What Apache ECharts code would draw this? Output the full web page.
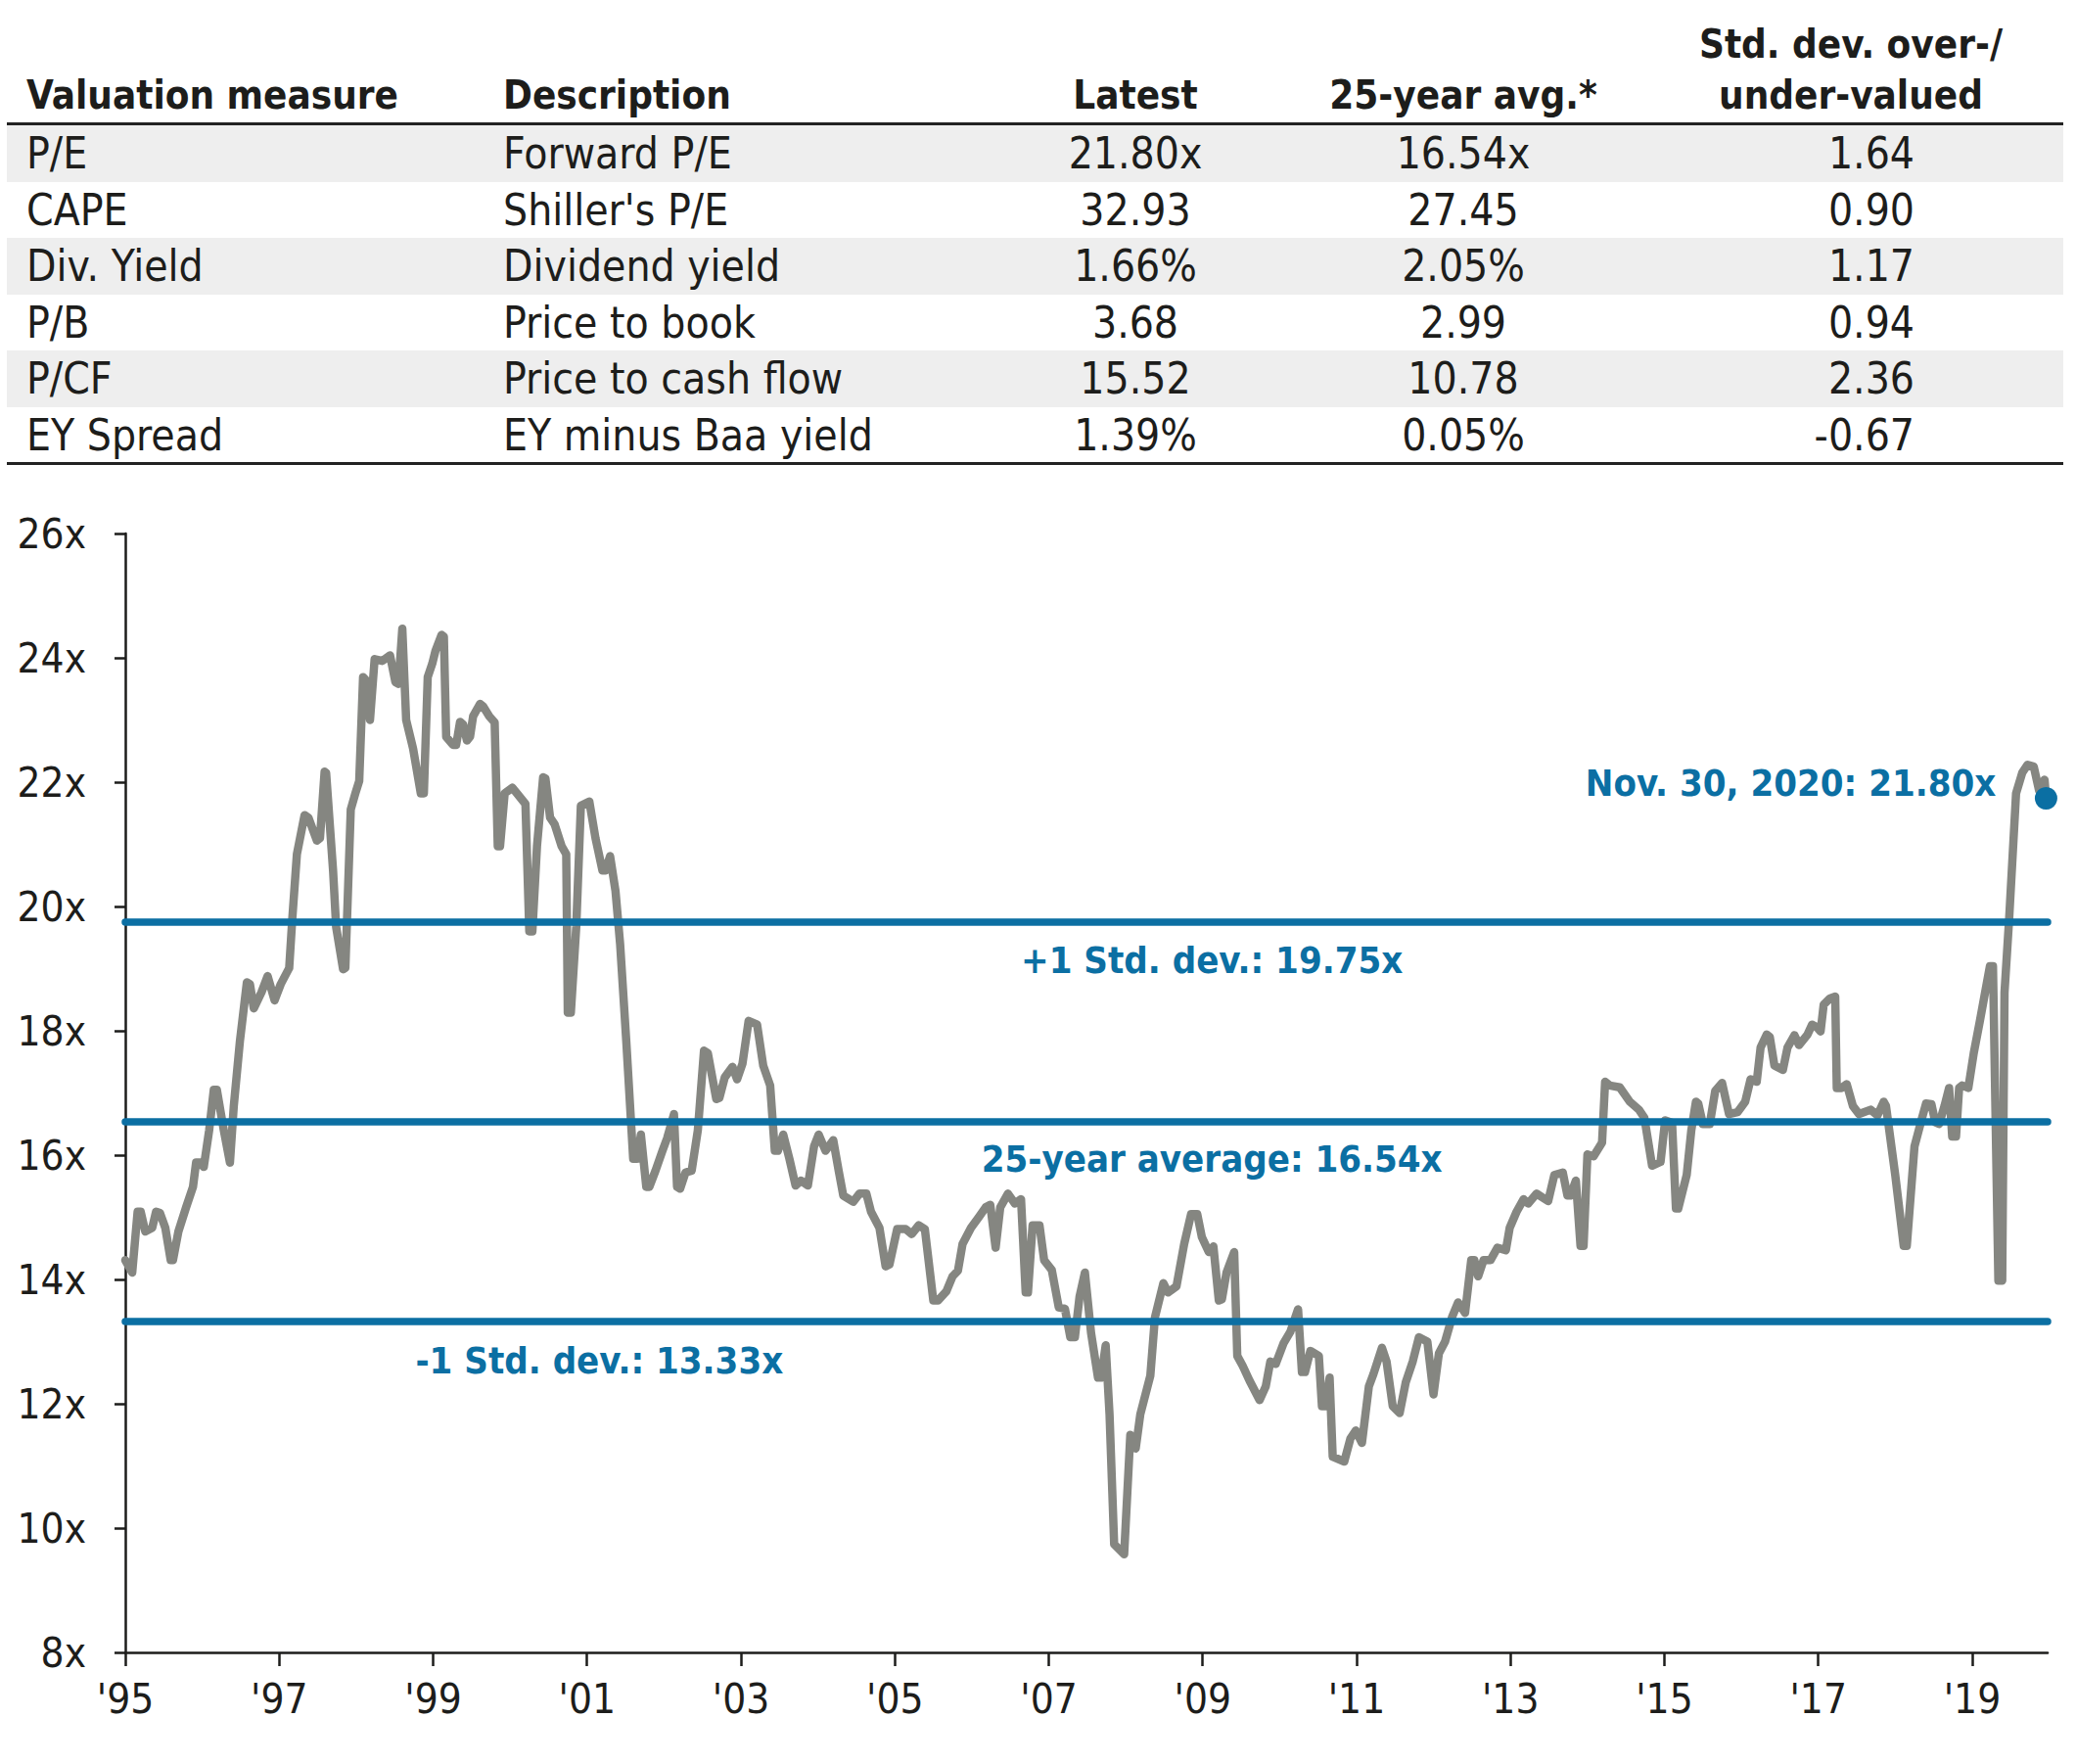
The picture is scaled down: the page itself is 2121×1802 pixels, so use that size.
<!DOCTYPE html>
<html><head><meta charset="utf-8">
<script src="https://cdn.jsdelivr.net/npm/echarts@6/dist/echarts.min.js"></script>
<style>
html,body{margin:0;padding:0;background:#fff;width:2121px;height:1802px;overflow:hidden;}
#chart{position:absolute;left:0;top:0;width:2121px;height:1802px;}
#table{position:absolute;left:0;top:0;width:2121px;height:480px;color:#1d1d1b;
  font-family:'DejaVu Sans Condensed','Liberation Sans Narrow','DejaVu Sans',sans-serif;}
.band{position:absolute;left:7px;width:2101px;height:58px;background:#eeeeee;}
.rule{position:absolute;left:7px;width:2101px;height:3px;background:#222;}
.cell{position:absolute;white-space:nowrap;height:58px;line-height:58px;font-size:44px;}
.hd{font-weight:bold;font-size:40px;}
.c{transform:translateX(-50%);}
.r{transform:translateX(-100%);}
</style></head>
<body>
<div id="chart"></div>
<div id="table"></div>
<script>
// ---------- table data ----------
const tableHeaders = ['Valuation measure', 'Description', 'Latest', '25-year avg.*'];
const stdHeader = ['Std. dev. over-/', 'under-valued'];
const measures = ['P/E', 'CAPE', 'Div. Yield', 'P/B', 'P/CF', 'EY Spread'];
const descriptions = ['Forward P/E', "Shiller's P/E", 'Dividend yield', 'Price to book', 'Price to cash flow', 'EY minus Baa yield'];
const latest = ['21.80x', '32.93', '1.66%', '3.68', '15.52', '1.39%'];
const avg25 = ['16.54x', '27.45', '2.05%', '2.99', '10.78', '0.05%'];
const stdDev = ['1.64', '0.90', '1.17', '0.94', '2.36', '-0.67'];

// ---------- chart data ----------
const dates = [1995.00,1995.09,1995.16,1995.20,1995.26,1995.35,1995.40,1995.45,1995.52,1995.59,1995.62,1995.69,1995.79,1995.88,1995.92,1995.97,
1996.02,1996.09,1996.15,1996.19,1996.28,1996.36,1996.41,1996.49,1996.58,1996.62,1996.67,1996.77,1996.85,1996.94,
1997.02,1997.13,1997.17,1997.23,1997.33,1997.38,1997.49,1997.53,1997.59,1997.61,1997.70,1997.74,1997.83,1997.86,1997.93,1997.99,
1998.04,1998.09,1998.12,1998.18,1998.24,1998.34,1998.44,1998.51,1998.55,1998.60,1998.65,1998.74,1998.84,1998.88,1998.93,1998.99,
1999.03,1999.11,1999.14,1999.17,1999.26,1999.30,1999.35,1999.39,1999.44,1999.48,1999.52,1999.61,1999.65,1999.73,1999.80,1999.84,1999.87,1999.93,
2000.03,2000.09,2000.20,2000.25,2000.29,2000.35,2000.43,2000.46,2000.52,2000.58,2000.67,2000.73,2000.75,2000.79,2000.86,2000.92,
2001.03,2001.11,2001.20,2001.24,2001.30,2001.37,2001.43,2001.51,2001.60,2001.65,2001.70,2001.77,2001.81,2001.89,2001.98,
2002.04,2002.13,2002.17,2002.21,2002.28,2002.36,2002.44,2002.52,2002.57,2002.68,2002.72,2002.79,2002.89,2002.95,
2003.02,2003.10,2003.21,2003.29,2003.38,2003.44,2003.48,2003.55,2003.63,2003.71,2003.78,2003.87,2003.95,
2004.01,2004.10,2004.20,2004.27,2004.33,2004.46,2004.54,2004.63,2004.69,2004.80,2004.88,2004.93,
2005.03,2005.14,2005.22,2005.31,2005.39,2005.50,2005.56,2005.67,2005.75,2005.82,2005.88,2005.99,
2006.09,2006.18,2006.24,2006.31,2006.37,2006.47,2006.56,2006.64,2006.70,2006.73,2006.79,2006.88,2006.94,
2007.04,2007.13,2007.21,2007.28,2007.34,2007.40,2007.47,2007.55,2007.64,2007.68,2007.74,2007.79,2007.85,2007.98,
2008.06,2008.13,2008.19,2008.32,2008.38,2008.49,2008.55,2008.66,2008.76,2008.85,2008.93,2008.99,
2009.08,2009.14,2009.21,2009.25,2009.31,2009.41,2009.45,2009.52,2009.61,2009.74,2009.82,2009.88,2009.95,
2010.05,2010.14,2010.24,2010.29,2010.33,2010.40,2010.51,2010.55,2010.60,2010.65,2010.69,2010.84,2010.92,2010.99,
2011.07,2011.16,2011.22,2011.33,2011.39,2011.47,2011.56,2011.64,2011.73,2011.81,2011.92,
2012.00,2012.07,2012.15,2012.24,2012.32,2012.41,2012.49,2012.53,2012.58,2012.65,2012.74,2012.83,2012.94,2012.99,
2013.08,2013.17,2013.23,2013.34,2013.49,2013.57,2013.68,2013.74,2013.78,2013.85,2013.91,2013.95,
2014.00,2014.08,2014.19,2014.23,2014.29,2014.42,2014.55,2014.67,2014.74,2014.84,2014.95,
2015.01,2015.10,2015.15,2015.18,2015.29,2015.35,2015.41,2015.44,2015.50,2015.59,2015.66,2015.75,2015.84,2015.95,
2016.05,2016.12,2016.20,2016.25,2016.33,2016.37,2016.43,2016.54,2016.60,2016.69,2016.75,2016.86,2016.92,2016.98,
2017.03,2017.07,2017.15,2017.22,2017.24,2017.30,2017.37,2017.45,2017.53,2017.68,2017.77,2017.85,2017.88,
2018.00,2018.11,2018.15,2018.25,2018.34,2018.40,2018.47,2018.52,2018.57,2018.64,2018.70,2018.74,2018.79,2018.83,2018.87,2018.95,
2019.02,2019.10,2019.23,2019.27,2019.34,2019.39,2019.42,2019.48,2019.57,2019.65,2019.72,2019.80,2019.87,2019.94,2019.96];

const forwardPE = [14.31,14.11,15.09,15.09,14.77,14.83,15.09,15.07,14.83,14.31,14.31,14.77,15.16,15.49,15.88,15.88,
15.81,16.40,17.05,17.05,16.40,15.88,16.79,17.84,18.78,18.75,18.36,18.62,18.88,18.49,
18.75,19.01,19.80,20.84,21.47,21.43,21.06,21.10,22.17,22.15,20.58,19.67,18.99,19.01,21.56,21.82,
22.02,23.69,23.65,23.00,23.98,23.95,24.04,23.61,23.58,24.47,23.00,22.54,21.82,21.82,23.69,23.91,
24.11,24.37,24.34,22.73,22.60,22.60,22.97,22.93,22.67,22.73,23.06,23.26,23.22,23.06,22.96,20.97,20.97,21.82,
21.91,21.82,21.65,19.60,19.60,20.97,22.08,22.06,21.43,21.32,20.97,20.84,18.29,18.29,19.67,21.62,
21.69,21.10,20.58,20.58,20.81,20.25,19.40,17.84,15.94,15.94,16.33,15.49,15.49,15.75,16.07,
16.27,16.66,15.49,15.46,15.72,15.75,16.40,17.68,17.64,16.90,16.92,17.25,17.42,17.22,
17.47,18.16,18.10,17.44,17.12,16.07,16.07,16.33,15.94,15.51,15.59,15.51,16.14,
16.33,16.07,16.24,15.75,15.35,15.25,15.38,15.38,15.09,14.83,14.21,14.24,
14.81,14.81,14.73,14.87,14.81,13.66,13.66,13.81,14.05,14.14,14.57,14.83,
15.00,15.16,15.20,14.51,15.16,15.38,15.22,15.29,13.79,13.79,14.87,14.87,14.31,
14.15,13.55,13.53,13.07,13.07,13.72,14.11,13.14,12.42,12.42,12.94,11.83,9.74,9.58,
11.50,11.28,11.83,12.45,13.39,13.94,13.79,13.89,14.57,15.05,15.05,14.68,
14.44,14.53,13.66,13.68,14.11,14.44,12.77,12.61,12.37,12.06,12.28,12.68,12.64,
12.97,13.16,13.52,12.51,12.51,12.85,12.77,11.96,11.96,12.42,11.15,11.07,11.44,11.57,
11.37,12.28,12.48,12.90,12.68,11.96,11.85,12.35,12.68,13.07,13.00,
12.15,12.81,13.00,13.39,13.63,13.46,14.31,14.31,14.05,14.31,14.31,14.51,14.47,14.83,
15.09,15.29,15.22,15.38,15.26,15.68,15.72,15.35,15.35,15.59,14.54,14.54,
16.01,15.98,16.20,17.18,17.12,17.09,16.86,16.73,16.60,15.83,15.89,
16.56,16.52,15.14,15.14,15.68,16.40,16.86,16.83,16.50,16.50,17.03,17.16,16.66,16.69,
16.86,17.22,17.18,17.73,17.94,17.90,17.44,17.37,17.73,17.93,17.77,17.94,18.10,18.06,
17.99,18.42,18.52,18.55,17.08,17.08,17.14,16.79,16.66,16.73,16.64,16.86,16.79,
15.68,14.54,14.54,16.14,16.56,16.83,16.82,16.53,16.50,16.79,17.08,16.30,16.30,17.08,17.12,17.08,
17.64,18.16,19.04,19.04,13.98,13.98,18.62,19.80,21.82,22.15,22.28,22.25,21.86,22.04,21.74];

const xTickYears = [1995,1997,1999,2001,2003,2005,2007,2009,2011,2013,2015,2017,2019];
const yTicks = [8,10,12,14,16,18,20,22,24,26];
const plusOneStd = 19.75;
const avg25yr = 16.54;
const minusOneStd = 13.33;
const latestDate = 'Nov. 30, 2020';
const latestPE = 21.80;

// ---------- build table ----------
const T = document.getElementById('table');
function add(cls, style, text){
  const d = document.createElement('div');
  d.className = cls; d.setAttribute('style', style);
  if (text !== undefined) d.textContent = text;
  T.appendChild(d); return d;
}
const rowTop = 128, rowH = 57.6;
for (let i = 0; i < measures.length; i++) {
  if (i % 2 === 0) add('band', 'top:' + (rowTop + i*rowH) + 'px;');
}
add('rule', 'top:125px;');
add('rule', 'top:472px;');
const hdTop = 68;
add('cell hd', 'left:27px;top:' + hdTop + 'px;', tableHeaders[0]);
add('cell hd', 'left:514px;top:' + hdTop + 'px;', tableHeaders[1]);
add('cell hd c', 'left:1160px;top:' + hdTop + 'px;', tableHeaders[2]);
add('cell hd c', 'left:1495px;top:' + hdTop + 'px;', tableHeaders[3]);
add('cell hd c', 'left:1891px;top:' + (hdTop - 52) + 'px;', stdHeader[0]);
add('cell hd c', 'left:1891px;top:' + hdTop + 'px;', stdHeader[1]);
for (let i = 0; i < measures.length; i++) {
  const t = rowTop + i*rowH;
  add('cell', 'left:27px;top:' + t + 'px;', measures[i]);
  add('cell', 'left:514px;top:' + t + 'px;', descriptions[i]);
  add('cell c', 'left:1160px;top:' + t + 'px;', latest[i]);
  add('cell c', 'left:1495px;top:' + t + 'px;', avg25[i]);
  add('cell r', 'left:1956px;top:' + t + 'px;', stdDev[i]);
}

// ---------- chart ----------
const FONT = "'DejaVu Sans Condensed','Liberation Sans Narrow','DejaVu Sans',sans-serif";
const BLUE = '#0b6fa3';
const GRAY = '#858681';
const INK = '#1d1d1b';
const peData = dates.map((d, i) => [d, forwardPE[i]]);
const last = peData[peData.length - 1];

const chart = echarts.init(document.getElementById('chart'), null, {renderer: 'svg'});
chart.setOption({
  animation: false,
  backgroundColor: 'transparent',
  grid: {left: 128, right: 29, top: 545, bottom: 114, containLabel: false},
  xAxis: {
    type: 'value', min: 1995, max: 2019.98, interval: 2,
    axisLine: {show: true, onZero: false, lineStyle: {color: INK, width: 2.5}},
    axisTick: {show: true, length: 14, customValues: xTickYears, lineStyle: {color: INK, width: 2.5}},
    axisLabel: {customValues: xTickYears, formatter: v => "'" + String(v).slice(2),
      fontSize: 42, color: INK, margin: 26, fontFamily: FONT},
    splitLine: {show: false}
  },
  yAxis: {
    type: 'value', min: yTicks[0], max: yTicks[yTicks.length - 1], interval: 2,
    axisLine: {show: true, lineStyle: {color: INK, width: 2.5}},
    axisTick: {show: true, length: 11, lineStyle: {color: INK, width: 2.5}},
    axisLabel: {formatter: '{value}x', fontSize: 42, color: INK, margin: 40, fontFamily: FONT},
    splitLine: {show: false}
  },
  series: [
    {
      type: 'line', data: peData, showSymbol: false, symbol: 'none', z: 2,
      lineStyle: {color: GRAY, width: 8.5, cap: 'round', join: 'round'},
      markLine: {
        silent: true, symbol: ['none', 'none'], z: 3,
        label: {show: false},
        lineStyle: {color: BLUE, width: 7.5, type: 'solid', cap: 'round'},
        data: [{yAxis: plusOneStd}, {yAxis: avg25yr}, {yAxis: minusOneStd}]
      },
      markPoint: {
        silent: true, symbol: 'circle', symbolSize: 0, z: 4,
        label: {show: true, position: 'inside', color: BLUE, fontWeight: 'bold', fontSize: 38, fontFamily: FONT},
        data: [
          {coord: [2009.12, 19.13], label: {formatter: '+1 Std. dev.: ' + plusOneStd.toFixed(2) + 'x'}},
          {coord: [2009.12, 15.93], label: {formatter: '25-year average: ' + avg25yr.toFixed(2) + 'x'}},
          {coord: [2001.16, 12.69], label: {formatter: '-1 Std. dev.: ' + minusOneStd.toFixed(2) + 'x'}},
          {coord: [2019.31, 21.98], label: {align: 'right', formatter: latestDate + ': ' + latestPE.toFixed(2) + 'x'}}
        ]
      }
    },
    {
      type: 'scatter', data: [last], symbol: 'circle', symbolSize: 23, z: 5,
      itemStyle: {color: BLUE, opacity: 1}, silent: true
    }
  ]
});
</script>
</body></html>
